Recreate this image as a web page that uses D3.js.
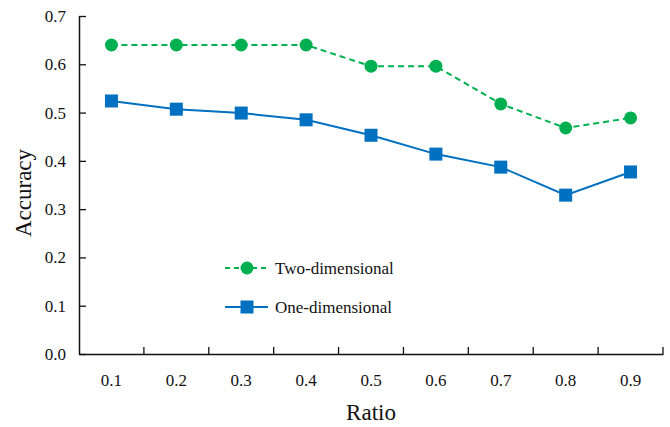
<!DOCTYPE html>
<html>
<head>
<meta charset="utf-8">
<script src="https://cdn.jsdelivr.net/npm/d3@7"></script>
<style>
  body { margin: 0; background: #fff; }
  svg text { font-family: "Liberation Serif", "DejaVu Serif", serif !important; fill: #111; }
</style>
</head>
<body>
<div id="chart"></div>
<script>
// data
const ratios = ["0.1", "0.2", "0.3", "0.4", "0.5", "0.6", "0.7", "0.8", "0.9"];
const twoDim = [0.640, 0.640, 0.640, 0.640, 0.596, 0.596, 0.518, 0.468, 0.489];
const oneDim = [0.524, 0.507, 0.499, 0.485, 0.453, 0.414, 0.387, 0.329, 0.377];
const yTicks = [0, 0.1, 0.2, 0.3, 0.4, 0.5, 0.6, 0.7];

const W = 670, H = 427;
const margin = { top: 16, right: 7, bottom: 73, left: 79 };
const width = W - margin.left - margin.right;
const height = H - margin.top - margin.bottom;
const serif = "Liberation Serif, DejaVu Serif, serif";

const svg = d3.select("#chart")
    .append("svg")
    .attr("width", W)
    .attr("height", H)
    .append("g")
    .attr("transform", `translate(${margin.left},${margin.top})`);

const x = d3.scaleBand().domain(ratios).range([0, width]);
const y = d3.scaleLinear().domain([0, 0.7]).range([height, 0]);

// y axis, ticks pointing inward
const yAxis = svg.append("g")
    .call(d3.axisLeft(y).tickValues(yTicks).tickFormat(d3.format(".1f"))
        .tickSizeInner(-7).tickSizeOuter(0).tickPadding(13))
    .attr("font-family", serif);
yAxis.select(".domain").attr("stroke", "#111").attr("stroke-width", 1.5);
yAxis.selectAll(".tick line").attr("stroke", "#111").attr("stroke-width", 1.3);
yAxis.selectAll(".tick text").style("font-size", "17px");

// x axis: ticks at category boundaries, pointing up
const xAxis = svg.append("g")
    .attr("transform", `translate(0,${height})`)
    .call(d3.axisBottom(x).tickSize(0).tickPadding(20))
    .attr("font-family", serif);
xAxis.select(".domain").attr("stroke", "#111").attr("stroke-width", 1.5);
xAxis.selectAll(".tick text").style("font-size", "17px");
xAxis.selectAll(".bound")
    .data(ratios)
    .enter().append("line")
    .attr("x1", d => x(d) + x.bandwidth())
    .attr("x2", d => x(d) + x.bandwidth())
    .attr("y1", 0).attr("y2", -7)
    .attr("stroke", "#111").attr("stroke-width", 1.3);

// axis titles
svg.append("text")
    .attr("x", width / 2)
    .attr("y", height + 66)
    .attr("text-anchor", "middle")
    .style("font-size", "23px")
    .text("Ratio");
svg.append("text")
    .attr("transform", `translate(${-48},${height / 2 + 8}) rotate(-90)`)
    .attr("text-anchor", "middle")
    .style("font-size", "23px")
    .text("Accuracy");

const green = "#00b050", blue = "#0070c0";
const cx = (d, i) => x(ratios[i]) + x.bandwidth() / 2;

const line = d3.line()
    .x((d, i) => cx(d, i))
    .y(d => y(d));

svg.append("path")
    .datum(oneDim)
    .attr("fill", "none")
    .attr("stroke", blue)
    .attr("stroke-width", 2)
    .attr("d", line);

svg.append("path")
    .datum(twoDim)
    .attr("fill", "none")
    .attr("stroke", green)
    .attr("stroke-width", 2)
    .attr("stroke-dasharray", "6,4")
    .attr("d", line);

svg.selectAll(".sq")
    .data(oneDim)
    .enter().append("rect")
    .attr("x", (d, i) => cx(d, i) - 6.5)
    .attr("y", d => y(d) - 6.5)
    .attr("width", 13).attr("height", 13)
    .attr("fill", blue);

svg.selectAll(".dot")
    .data(twoDim)
    .enter().append("circle")
    .attr("cx", (d, i) => cx(d, i))
    .attr("cy", d => y(d))
    .attr("r", 6.5)
    .attr("fill", green);

// legend
const legend = svg.append("g").attr("transform", `translate(${225 - margin.left},${268 - margin.top})`);
const items = [
    { name: "Two-dimensional", color: green, dash: "5,4", shape: "circle" },
    { name: "One-dimensional", color: blue, dash: null, shape: "square" }
];
items.forEach((it, i) => {
    const g = legend.append("g").attr("transform", `translate(0,${i * 39})`);
    g.append("line")
        .attr("x1", 0).attr("x2", 43)
        .attr("stroke", it.color).attr("stroke-width", 2)
        .attr("stroke-dasharray", it.dash);
    if (it.shape === "circle") {
        g.append("circle").attr("cx", 22).attr("r", 6.5).attr("fill", it.color);
    } else {
        g.append("rect").attr("x", 15.5).attr("y", -6.5).attr("width", 13).attr("height", 13).attr("fill", it.color);
    }
    g.append("text")
        .attr("x", 50).attr("y", 6)
        .style("font-size", "17px")
        .text(it.name);
});
</script>
</body>
</html>
